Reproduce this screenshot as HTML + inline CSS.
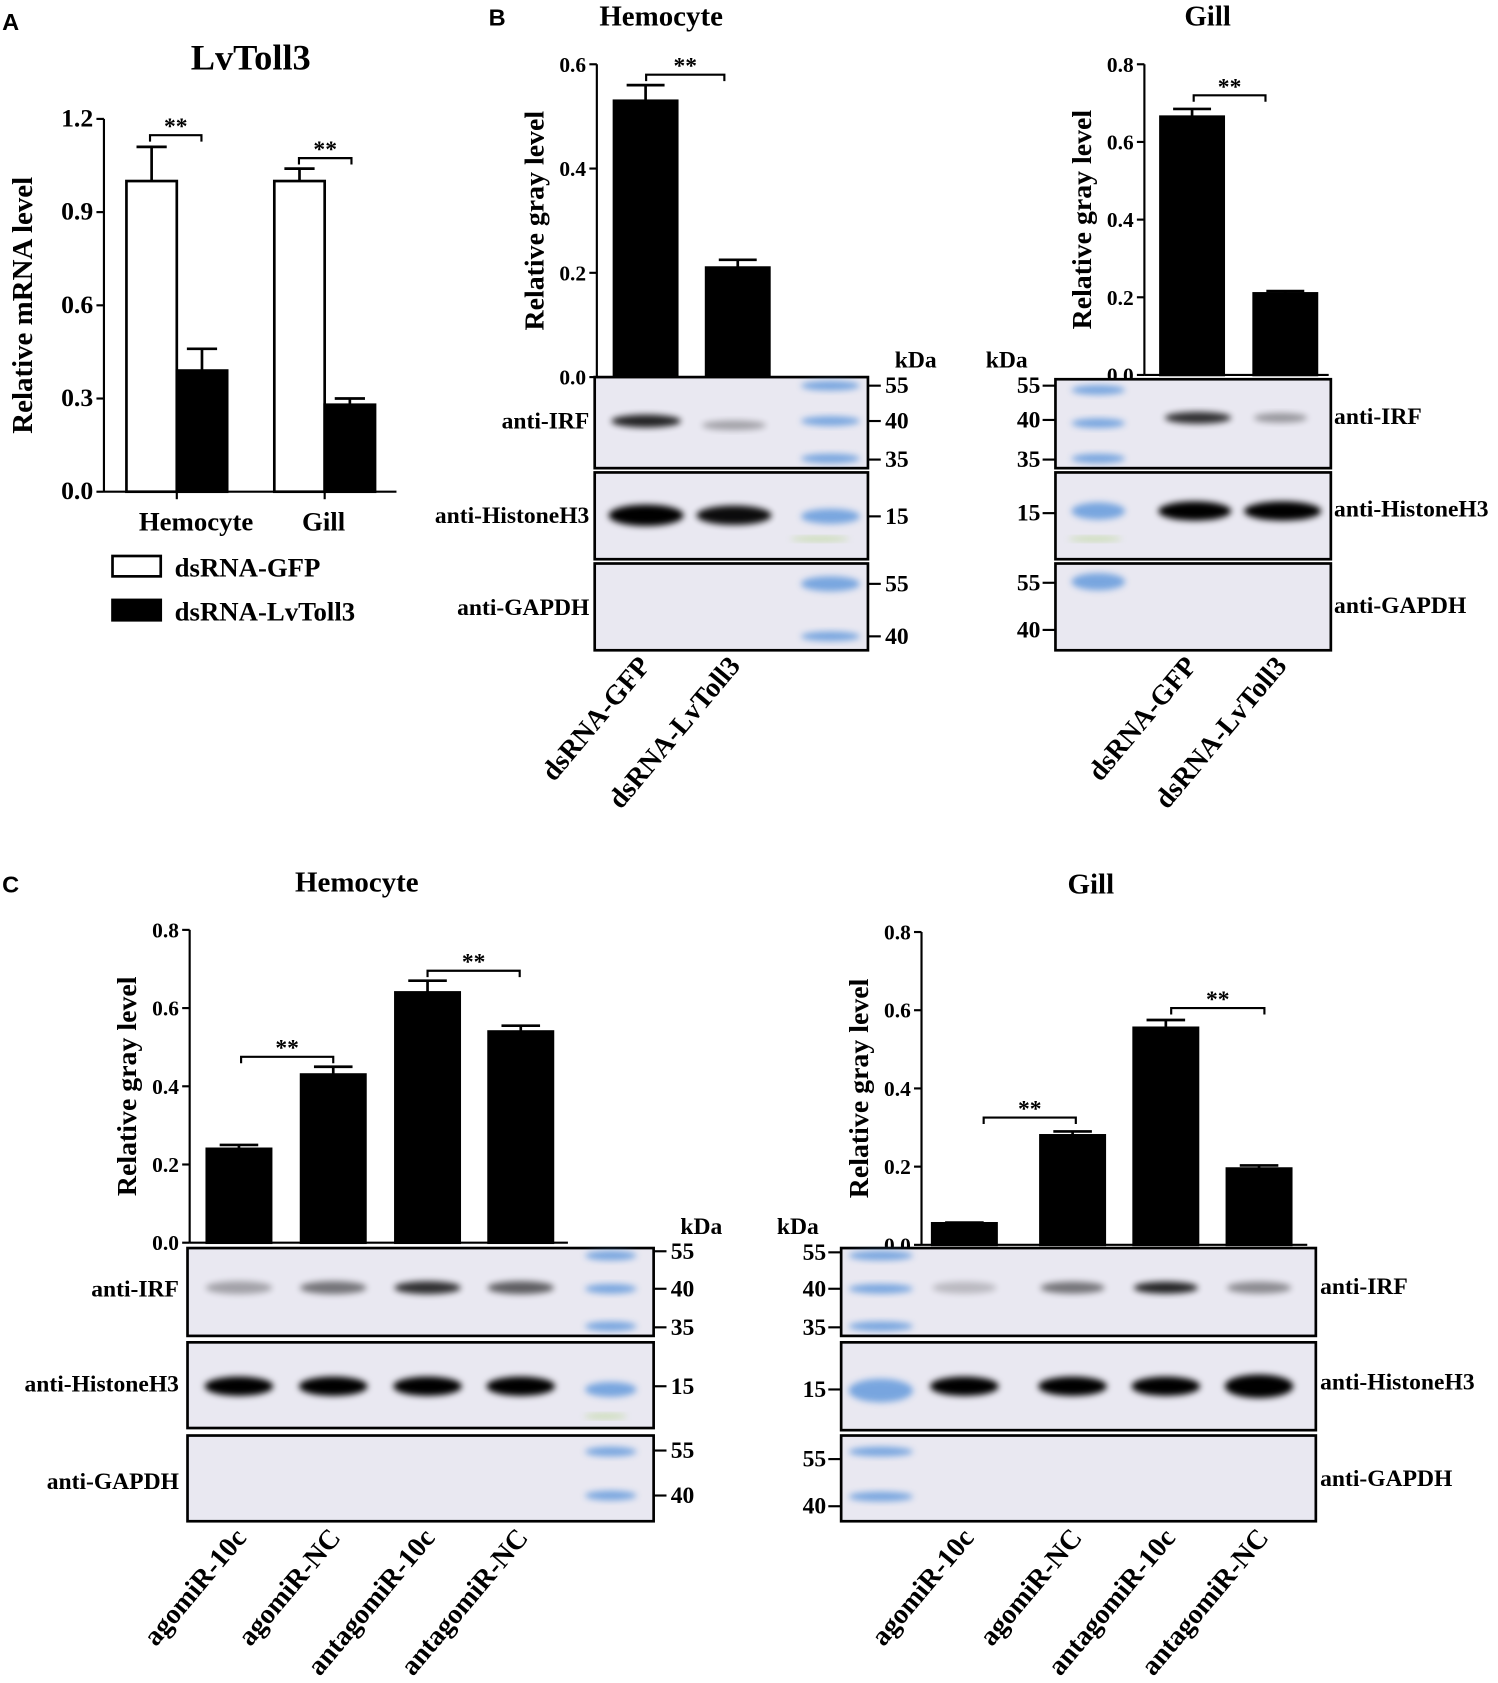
<!DOCTYPE html>
<html><head><meta charset="utf-8"><style>
body{margin:0;background:#fff;}
svg{display:block;font-family:"Liberation Serif",serif;font-weight:bold;}
</style></head><body>
<svg id="fig" width="1498" height="1683" viewBox="0 0 1398 1571" preserveAspectRatio="none" xmlns="http://www.w3.org/2000/svg">
<defs>
<filter id="blur" x="-20%" y="-50%" width="140%" height="200%"><feGaussianBlur stdDeviation="3"/></filter>
</defs>
<g id="root"></g>
</svg>
<script>
// Panel A data
const aCategories = ["Hemocyte","Gill"];
const aGfp = [1.0, 1.0];
const aGfpErr = [0.11, 0.04];
const aKd = [0.39, 0.28];
const aKdErr = [0.07, 0.02];
const aTicks = [0.0, 0.3, 0.6, 0.9, 1.2];
// Panel B
const bHemoValues = [0.53, 0.21];
const bHemoErr = [0.03, 0.015];
const bHemoTicks = [0.0, 0.2, 0.4, 0.6];
const bGillValues = [0.665, 0.21];
const bGillErr = [0.02, 0.006];
const bGillTicks = [0.0, 0.2, 0.4, 0.6, 0.8];
const bLanes = ["dsRNA-GFP","dsRNA-LvToll3"];
// Panel C
const cHemoValues = [0.24, 0.43, 0.64, 0.54];
const cHemoErr = [0.01, 0.02, 0.03, 0.015];
const cGillValues = [0.055, 0.28, 0.555, 0.195];
const cGillErr = [0.002, 0.01, 0.02, 0.008];
const cTicks = [0.0, 0.2, 0.4, 0.6, 0.8];
const cLanes = ["agomiR-10c","agomiR-NC","antagomiR-10c","antagomiR-NC"];

const NS="http://www.w3.org/2000/svg";
const root=document.getElementById('root');
function el(tag,attrs,parent,text){const e=document.createElementNS(NS,tag);for(const k in attrs)e.setAttribute(k,attrs[k]);if(text!==undefined)e.textContent=text;(parent||root).appendChild(e);return e;}
function txt(x,y,s,size,anchor,name,extra){const t=el('text',Object.assign({x:x,y:y,'font-size':size,'text-anchor':anchor||'start'},extra||{}),root,s);

return t;}

function axis(x0,yBase,yTop,vmax,ticks,size,tsize,label,lx){
  const ys=v=>yBase-(v/vmax)*(yBase-yTop);
  const ax=el('line',{x1:x0,y1:ys(vmax),x2:x0,y2:yBase,stroke:'#000','stroke-width':2});
  
  
  ticks.forEach(v=>{const y=ys(v);el('line',{x1:x0-7,y1:y,x2:x0,y2:y,stroke:'#000','stroke-width':2});
    txt(x0-10,y+7,v.toFixed(1),size,'end','y-tick-label');});
  txt(lx,(yBase+yTop)/2,label,tsize,'middle','y-axis-title',{transform:`rotate(-90 ${lx} ${(yBase+yTop)/2})`});
  return ys;
}
function bar(x,w,v,e,ys,fill,name){
  const r=el('rect',{x:x,y:ys(v),width:w,height:ys(0)-ys(v),fill:fill,stroke:'#000','stroke-width':2.5});
  
  
  const cx=x+w/2;
  el('line',{x1:cx,y1:ys(v),x2:cx,y2:ys(v+e),stroke:'#000','stroke-width':2.5});
  el('line',{x1:cx-w*0.3,y1:ys(v+e),x2:cx+w*0.3,y2:ys(v+e),stroke:'#000','stroke-width':2.5});
}
function sig(x1,x2,y){el('path',{d:`M${x1} ${y+6}V${y}H${x2}V${y+6}`,fill:'none',stroke:'#000','stroke-width':2});
  txt((x1+x2)/2,y-1,'**',22,'middle','significance-mark');}

// ---------- Panel A ----------
txt(2,28,'A',22,'start','panel-label-a',{'font-family':'Liberation Sans'});
txt(234,65,'LvToll3',34,'middle','chart-title-a');
let ys=axis(97,459,111,1.2,aTicks,24,27,'Relative mRNA level',30);
el('line',{x1:97,y1:459,x2:370,y2:459,stroke:'#000','stroke-width':2});
const aX=[118,256];
aCategories.forEach((c,i)=>{
  bar(aX[i],47,aGfp[i],aGfpErr[i],ys,'#fff','bar-gfp-'+c.toLowerCase());
  bar(aX[i]+47,47,aKd[i],aKdErr[i],ys,'#000','bar-kd-'+c.toLowerCase());
  el('line',{x1:aX[i]+47,y1:459,x2:aX[i]+47,y2:466,stroke:'#000','stroke-width':2});
  txt(aX[i]+47+(i?-1:18),495,c,25,'middle','x-tick-label');
});
sig(140,188,ys(1.12)-8); sig(279,328,ys(1.06)-4);
let lg=el('rect',{x:105,y:519,width:45,height:19,fill:'#fff',stroke:'#000','stroke-width':2.5});

txt(163,538,'dsRNA-GFP',25,'start','legend-entry-gfp');
lg=el('rect',{x:105,y:560,width:45,height:19,fill:'#000',stroke:'#000','stroke-width':2.5});

txt(163,579,'dsRNA-LvToll3',25,'start','legend-entry-lvtoll3');

function blot(x,y,w,h,name){const r=el('rect',{x:x,y:y,width:w,height:h,fill:'#e9e8f1',stroke:'#000','stroke-width':2.5});
  }
function band(cx,cy,w,h,op,color){el('ellipse',{cx:cx,cy:cy,rx:w/2,ry:h/2,fill:color||'#000',opacity:op,filter:'url(#blur)'});}
function kda(x,y,label,side){
  if(side==='r'){el('line',{x1:x,y1:y,x2:x+12,y2:y,stroke:'#000','stroke-width':2});txt(x+16,y+7,label,22,'start','kda-marker');}
  else{el('line',{x1:x-12,y1:y,x2:x,y2:y,stroke:'#000','stroke-width':2});txt(x-14,y+7,label,22,'end','kda-marker');}
}
function laneLabels(xs,y,labels){labels.forEach((s,i)=>txt(xs[i],y,s,26,'end','lane-label',{transform:`rotate(-50 ${xs[i]} ${y})`}));}

// ---------- Panel B Hemocyte ----------
txt(456,24,'B',22,'start','panel-label-b',{'font-family':'Liberation Sans'});
txt(617,24,'Hemocyte',27,'middle','chart-title-b-hemocyte');
ys=axis(557,352,60,0.6,bHemoTicks,20,26,'Relative gray level',507);
el('line',{x1:557,y1:352,x2:735,y2:352,stroke:'#000','stroke-width':2});
const bHX=[573,659];
bHemoValues.forEach((v,i)=>bar(bHX[i],59,v,bHemoErr[i],ys,'#000','bar-hemocyte-'+i));
sig(603,676,ys(0.58));
blot(555,352,255,85,'blot-irf-hemocyte');blot(555,441,255,81,'blot-histone-hemocyte');blot(555,526,255,81,'blot-gapdh-hemocyte');
band(603,393,65,12,0.85);band(685,397,60,9,0.3);
band(603,481,70,20,1);band(685,481,70,18,0.95);
[360,393,428,482,545,594].forEach((y,i)=>band(775,y,55,i==3?14:(i==4?14:9),0.7,'#4a8ad8'));
band(765,503,55,4,0.6,'#a8d070');
txt(550,400,'anti-IRF',22,'end','blot-label');txt(550,488,'anti-HistoneH3',22,'end','blot-label');txt(550,574,'anti-GAPDH',22,'end','blot-label');
txt(835,343,'kDa',22,'start','kda-unit');
kda(810,360,'55','r');kda(810,393,'40','r');kda(810,429,'35','r');kda(810,482,'15','r');kda(810,545,'55','r');kda(810,594,'40','r');
laneLabels([608,692],622,bLanes);

// ---------- Panel B Gill ----------
txt(1127,24,'Gill',27,'middle','chart-title-b-gill');
ys=axis(1068,350,60,0.8,bGillTicks,20,26,'Relative gray level',1018);
el('line',{x1:1068,y1:350,x2:1240,y2:350,stroke:'#000','stroke-width':2});
const bGX=[1083,1170];
bGillValues.forEach((v,i)=>bar(bGX[i],59,v,bGillErr[i],ys,'#000','bar-gill-'+i));
sig(1114,1181,ys(0.72));
blot(985,354,257,83,'blot-irf-gill');blot(985,441,257,81,'blot-histone-gill');blot(985,526,257,81,'blot-gapdh-gill');
band(1118,390,62,11,0.8);band(1195,390,50,9,0.35);
band(1115,477,68,18,1);band(1197,477,72,18,1);
[364,395,428,477,543].forEach((y,i)=>band(1025,y,50,i==3?16:(i==4?16:9),0.7,'#4a8ad8'));
band(1022,503,50,4,0.6,'#a8d070');
txt(1245,396,'anti-IRF',22,'start','blot-label');txt(1245,482,'anti-HistoneH3',22,'start','blot-label');txt(1245,572,'anti-GAPDH',22,'start','blot-label');
txt(920,343,'kDa',22,'start','kda-unit');
kda(985,360,'55','l');kda(985,392,'40','l');kda(985,429,'35','l');kda(985,479,'15','l');kda(985,544,'55','l');kda(985,588,'40','l');
laneLabels([1118,1202],622,bLanes);

// ---------- Panel C Hemocyte ----------
txt(2,833,'C',22,'start','panel-label-c',{'font-family':'Liberation Sans'});
txt(333,832,'Hemocyte',27,'middle','chart-title-c-hemocyte');
ys=axis(177,1160,868,0.8,cTicks,20,26,'Relative gray level',127);
el('line',{x1:177,y1:1160,x2:530,y2:1160,stroke:'#000','stroke-width':2});
const cHX=[193,281,369,456];
cHemoValues.forEach((v,i)=>bar(cHX[i],60,v,cHemoErr[i],ys,'#000','bar-c-hemocyte-'+i));
sig(225,311,ys(0.47)-2);sig(399,485,ys(0.69)-2);
blot(175,1165,435,82,'blot-irf-c-hemocyte');blot(175,1253,435,80,'blot-histone-c-hemocyte');blot(175,1340,435,80,'blot-gapdh-c-hemocyte');
[0.3,0.5,0.8,0.6].forEach((o,i)=>band(cHX[i]+30,1202,62,12,o));
cHX.forEach(x=>band(x+30,1294,64,18,1));
[1172,1203,1238,1297,1355,1396].forEach((y,i)=>band(570,y,48,i==3?14:9,0.7,'#4a8ad8'));
band(565,1322,40,4,0.6,'#a8d070');
txt(167,1210,'anti-IRF',22,'end','blot-label');txt(167,1299,'anti-HistoneH3',22,'end','blot-label');txt(167,1390,'anti-GAPDH',22,'end','blot-label');
txt(635,1152,'kDa',22,'start','kda-unit');
kda(610,1168,'55','r');kda(610,1203,'40','r');kda(610,1239,'35','r');kda(610,1294,'15','r');kda(610,1354,'55','r');kda(610,1396,'40','r');
laneLabels(cHX.map(x=>x+38),1436,cLanes);

// ---------- Panel C Gill ----------
txt(1018,834,'Gill',27,'middle','chart-title-c-gill');
ys=axis(860,1162,870,0.8,cTicks,20,26,'Relative gray level',810);
el('line',{x1:860,y1:1162,x2:1220,y2:1162,stroke:'#000','stroke-width':2});
const cGX=[870,971,1058,1145];
cGillValues.forEach((v,i)=>bar(cGX[i],60,v,cGillErr[i],ys,'#000','bar-c-gill-'+i));
sig(918,1004,ys(0.32)-2);sig(1093,1180,ys(0.6)-2);
blot(785,1165,443,82,'blot-irf-c-gill');blot(785,1253,443,82,'blot-histone-c-gill');blot(785,1340,443,80,'blot-gapdh-c-gill');
[0.2,0.5,0.85,0.4].forEach((o,i)=>band(cGX[i]+30,1202,60,11,o));
cGX.forEach((x,i)=>band(x+30,1294,64,i==3?22:18,1));
[1172,1203,1238,1298,1355,1397].forEach((y,i)=>band(822,y,60,i==3?22:9,0.7,'#4a8ad8'));
txt(1232,1208,'anti-IRF',22,'start','blot-label');txt(1232,1297,'anti-HistoneH3',22,'start','blot-label');txt(1232,1387,'anti-GAPDH',22,'start','blot-label');
txt(725,1152,'kDa',22,'start','kda-unit');
kda(785,1169,'55','l');kda(785,1203,'40','l');kda(785,1239,'35','l');kda(785,1297,'15','l');kda(785,1362,'55','l');kda(785,1406,'40','l');
laneLabels(cGX.map(x=>x+40),1436,cLanes);
</script>
</body></html>
